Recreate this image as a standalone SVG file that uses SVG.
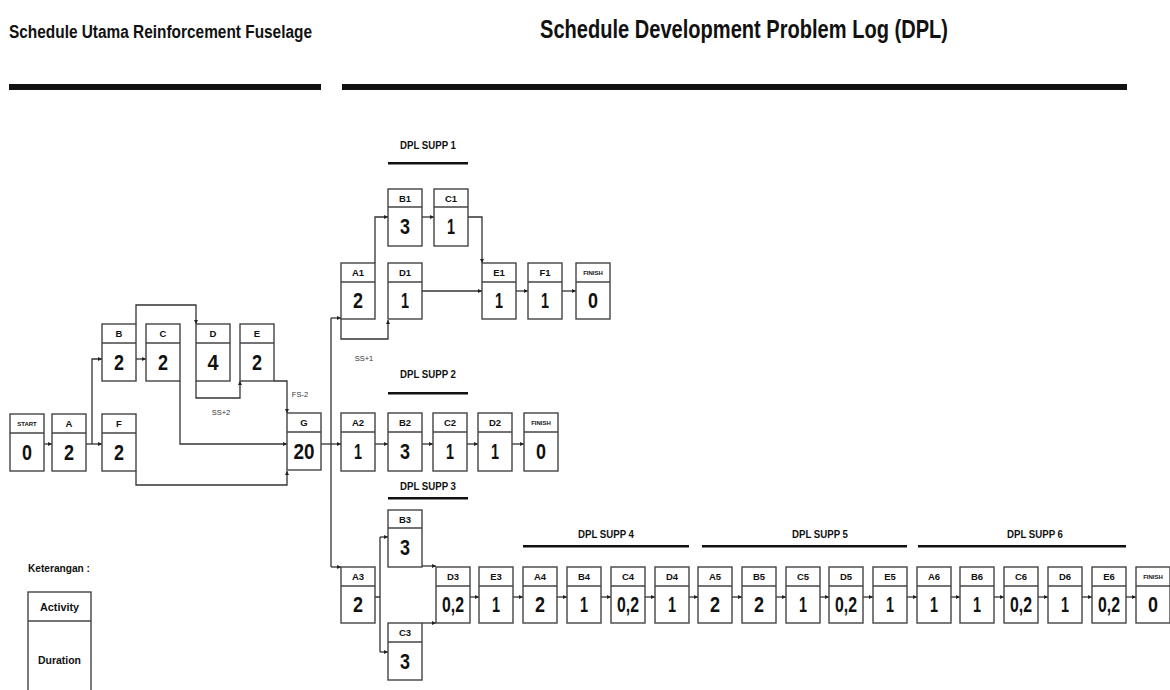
<svg xmlns="http://www.w3.org/2000/svg" width="1170" height="690" viewBox="0 0 1170 690">
<defs>
<marker id="ah" viewBox="0 0 6 6" refX="6" refY="3" markerWidth="4" markerHeight="4" orient="auto" markerUnits="userSpaceOnUse">
<path d="M0,0 L6,3 L0,6 z" fill="#222"/>
</marker>
<style>
.bx rect{fill:#fff;stroke:#444;stroke-width:1.4}
.bx line{stroke:#444;stroke-width:1.4}
.lb{font-family:"Liberation Sans",Arial,sans-serif;font-weight:bold;font-size:9.5px;fill:#111;text-anchor:middle}
.sm{font-size:6px}
.nm{font-family:"Liberation Sans",Arial,sans-serif;font-weight:bold;font-size:22px;fill:#111;text-anchor:middle}
.cn path{fill:none;stroke:#333;stroke-width:1.3}
.cn .a{marker-end:url(#ah)}
.note{font-family:"Liberation Sans",Arial,sans-serif;font-size:7.5px;fill:#333;text-anchor:middle}
.sec{font-family:"Liberation Sans",Arial,sans-serif;font-weight:bold;font-size:11px;fill:#111;text-anchor:middle}
.bar{fill:#111}
.title{font-family:"Liberation Sans",Arial,sans-serif;font-weight:bold;fill:#111}
</style>
</defs>
<rect width="1170" height="690" fill="#fff"/>

<!-- titles -->
<text class="title" x="9" y="38" font-size="17.5" textLength="303" lengthAdjust="spacingAndGlyphs">Schedule Utama Reinforcement Fuselage</text>
<text class="title" x="540" y="38" font-size="26" textLength="408" lengthAdjust="spacingAndGlyphs">Schedule Development Problem Log (DPL)</text>
<rect class="bar" x="9" y="84" width="312" height="6"/>
<rect class="bar" x="342" y="84" width="785" height="6"/>

<!-- section headers -->
<text class="sec" x="428" y="149" textLength="56" lengthAdjust="spacingAndGlyphs">DPL SUPP 1</text>
<rect class="bar" x="388" y="162" width="80" height="2.5"/>
<text class="sec" x="428" y="378" textLength="56" lengthAdjust="spacingAndGlyphs">DPL SUPP 2</text>
<rect class="bar" x="388" y="392" width="80" height="2.5"/>
<text class="sec" x="428" y="490" textLength="56" lengthAdjust="spacingAndGlyphs">DPL SUPP 3</text>
<rect class="bar" x="388" y="497" width="80" height="2.5"/>
<text class="sec" x="606" y="538" textLength="56" lengthAdjust="spacingAndGlyphs">DPL SUPP 4</text>
<rect class="bar" x="523" y="545" width="166" height="2.5"/>
<text class="sec" x="820" y="538" textLength="56" lengthAdjust="spacingAndGlyphs">DPL SUPP 5</text>
<rect class="bar" x="702" y="545" width="205" height="2.5"/>
<text class="sec" x="1035" y="538" textLength="56" lengthAdjust="spacingAndGlyphs">DPL SUPP 6</text>
<rect class="bar" x="918" y="545" width="208" height="2.5"/>

<!-- connectors -->
<g id="connectors" class="cn">
<path class="a" d="M44,444 H52"/>
<path class="a" d="M86,444 H102"/>
<path class="a" d="M92,444 V359 H102"/>
<path class="a" d="M136,359 H146"/>
<path class="a" d="M136,324 V305 H196 V324"/>
<path class="a" d="M196,381 V398 H240 V381"/>
<path class="a" d="M180,381 V444 H287"/>
<path class="a" d="M274,381 H287 V413"/>
<path class="a" d="M136,471 V485 H287 V471"/>
<path d="M321,444 H331"/>
<path d="M331,318 V567"/>
<path class="a" d="M331,318 H341"/>
<path class="a" d="M331,444 H341"/>
<path class="a" d="M331,567 H341"/>
<!-- DPL 1 -->
<path class="a" d="M375,263 V217 H388"/>
<path class="a" d="M422,217 H434"/>
<path class="a" d="M468,217 H482 V263"/>
<path class="a" d="M341,319 V339 H388 V320"/>
<path class="a" d="M422,291 H482"/>
<path class="a" d="M516,291 H528"/>
<path class="a" d="M562,291 H576"/>
<!-- DPL 2 -->
<path class="a" d="M375,444 H388"/>
<path class="a" d="M422,444 H433"/>
<path class="a" d="M467,444 H478"/>
<path class="a" d="M512,444 H524"/>
<!-- DPL 3 -->
<path d="M375,597 H380 M380,537 V652"/>
<path class="a" d="M380,537 H388"/>
<path class="a" d="M380,652 H388"/>
<path class="a" d="M422,566 H436"/>
<path class="a" d="M422,623 H436"/>
<path class="a" d="M470,597 H479"/>
<path class="a" d="M513,597 H523"/>
<path class="a" d="M557,597 H567"/>
<path class="a" d="M601,597 H611"/>
<path class="a" d="M645,597 H655"/>
<path class="a" d="M689,597 H698"/>
<path class="a" d="M732,597 H742"/>
<path class="a" d="M776,597 H786"/>
<path class="a" d="M820,597 H829"/>
<path class="a" d="M863,597 H873"/>
<path class="a" d="M907,597 H917"/>
<path class="a" d="M951,597 H960"/>
<path class="a" d="M994,597 H1004"/>
<path class="a" d="M1038,597 H1048"/>
<path class="a" d="M1082,597 H1092"/>
<path class="a" d="M1126,597 H1136"/>
</g>
<text class="note" x="221" y="415">SS+2</text>
<text class="note" x="300" y="397">FS-2</text>
<text class="note" x="364" y="361">SS+1</text>

<!-- nodes -->
<g id="n-start" class="bx" transform="translate(10,414)"><rect width="34" height="57"/><line x1="0" y1="19" x2="34" y2="19"/><text class="lb sm" x="17" y="12">START</text><text class="nm" x="17" y="46" textLength="10" lengthAdjust="spacingAndGlyphs">0</text></g>
<g id="n-a" class="bx" transform="translate(52,414)"><rect width="34" height="57"/><line x1="0" y1="19" x2="34" y2="19"/><text class="lb" x="17" y="13">A</text><text class="nm" x="17" y="46" textLength="10" lengthAdjust="spacingAndGlyphs">2</text></g>
<g id="n-f" class="bx" transform="translate(102,414)"><rect width="34" height="57"/><line x1="0" y1="19" x2="34" y2="19"/><text class="lb" x="17" y="13">F</text><text class="nm" x="17" y="46" textLength="10" lengthAdjust="spacingAndGlyphs">2</text></g>
<g id="n-b" class="bx" transform="translate(102,324)"><rect width="34" height="57"/><line x1="0" y1="19" x2="34" y2="19"/><text class="lb" x="17" y="13">B</text><text class="nm" x="17" y="46" textLength="10" lengthAdjust="spacingAndGlyphs">2</text></g>
<g id="n-c" class="bx" transform="translate(146,324)"><rect width="34" height="57"/><line x1="0" y1="19" x2="34" y2="19"/><text class="lb" x="17" y="13">C</text><text class="nm" x="17" y="46" textLength="10" lengthAdjust="spacingAndGlyphs">2</text></g>
<g id="n-d" class="bx" transform="translate(196,324)"><rect width="34" height="57"/><line x1="0" y1="19" x2="34" y2="19"/><text class="lb" x="17" y="13">D</text><text class="nm" x="17" y="46" textLength="11" lengthAdjust="spacingAndGlyphs">4</text></g>
<g id="n-e" class="bx" transform="translate(240,324)"><rect width="34" height="57"/><line x1="0" y1="19" x2="34" y2="19"/><text class="lb" x="17" y="13">E</text><text class="nm" x="17" y="46" textLength="10" lengthAdjust="spacingAndGlyphs">2</text></g>
<g id="n-g" class="bx" transform="translate(287,413)"><rect width="34" height="57"/><line x1="0" y1="19" x2="34" y2="19"/><text class="lb" x="17" y="13">G</text><text class="nm" x="17" y="46" textLength="21" lengthAdjust="spacingAndGlyphs">20</text></g>

<g id="n-a1" class="bx" transform="translate(341,263)"><rect width="34" height="56"/><line x1="0" y1="19" x2="34" y2="19"/><text class="lb" x="17" y="13">A1</text><text class="nm" x="17" y="45" textLength="10" lengthAdjust="spacingAndGlyphs">2</text></g>
<g id="n-b1" class="bx" transform="translate(388,189)"><rect width="34" height="57"/><line x1="0" y1="18" x2="34" y2="18"/><text class="lb" x="17" y="13">B1</text><text class="nm" x="17" y="45" textLength="10" lengthAdjust="spacingAndGlyphs">3</text></g>
<g id="n-c1" class="bx" transform="translate(434,189)"><rect width="34" height="57"/><line x1="0" y1="18" x2="34" y2="18"/><text class="lb" x="17" y="13">C1</text><text class="nm" x="17" y="45" textLength="8" lengthAdjust="spacingAndGlyphs">1</text></g>
<g id="n-d1" class="bx" transform="translate(388,263)"><rect width="34" height="56"/><line x1="0" y1="19" x2="34" y2="19"/><text class="lb" x="17" y="13">D1</text><text class="nm" x="17" y="45" textLength="8" lengthAdjust="spacingAndGlyphs">1</text></g>
<g id="n-e1" class="bx" transform="translate(482,263)"><rect width="34" height="56"/><line x1="0" y1="19" x2="34" y2="19"/><text class="lb" x="17" y="13">E1</text><text class="nm" x="17" y="45" textLength="8" lengthAdjust="spacingAndGlyphs">1</text></g>
<g id="n-f1" class="bx" transform="translate(528,263)"><rect width="34" height="56"/><line x1="0" y1="19" x2="34" y2="19"/><text class="lb" x="17" y="13">F1</text><text class="nm" x="17" y="45" textLength="8" lengthAdjust="spacingAndGlyphs">1</text></g>
<g id="n-finish1" class="bx" transform="translate(576,263)"><rect width="34" height="56"/><line x1="0" y1="19" x2="34" y2="19"/><text class="lb sm" x="17" y="12">FINISH</text><text class="nm" x="17" y="45" textLength="10" lengthAdjust="spacingAndGlyphs">0</text></g>

<g id="n-a2" class="bx" transform="translate(341,413)"><rect width="34" height="58"/><line x1="0" y1="19" x2="34" y2="19"/><text class="lb" x="17" y="13">A2</text><text class="nm" x="17" y="46" textLength="8" lengthAdjust="spacingAndGlyphs">1</text></g>
<g id="n-b2" class="bx" transform="translate(388,413)"><rect width="34" height="58"/><line x1="0" y1="19" x2="34" y2="19"/><text class="lb" x="17" y="13">B2</text><text class="nm" x="17" y="46" textLength="10" lengthAdjust="spacingAndGlyphs">3</text></g>
<g id="n-c2" class="bx" transform="translate(433,413)"><rect width="34" height="58"/><line x1="0" y1="19" x2="34" y2="19"/><text class="lb" x="17" y="13">C2</text><text class="nm" x="17" y="46" textLength="8" lengthAdjust="spacingAndGlyphs">1</text></g>
<g id="n-d2" class="bx" transform="translate(478,413)"><rect width="34" height="58"/><line x1="0" y1="19" x2="34" y2="19"/><text class="lb" x="17" y="13">D2</text><text class="nm" x="17" y="46" textLength="8" lengthAdjust="spacingAndGlyphs">1</text></g>
<g id="n-finish2" class="bx" transform="translate(524,413)"><rect width="34" height="58"/><line x1="0" y1="19" x2="34" y2="19"/><text class="lb sm" x="17" y="12">FINISH</text><text class="nm" x="17" y="46" textLength="10" lengthAdjust="spacingAndGlyphs">0</text></g>

<g id="n-a3" class="bx" transform="translate(341,567)"><rect width="34" height="56"/><line x1="0" y1="19" x2="34" y2="19"/><text class="lb" x="17" y="13">A3</text><text class="nm" x="17" y="45" textLength="10" lengthAdjust="spacingAndGlyphs">2</text></g>
<g id="n-b3" class="bx" transform="translate(388,510)"><rect width="34" height="57"/><line x1="0" y1="18" x2="34" y2="18"/><text class="lb" x="17" y="13">B3</text><text class="nm" x="17" y="45" textLength="10" lengthAdjust="spacingAndGlyphs">3</text></g>
<g id="n-c3" class="bx" transform="translate(388,623)"><rect width="34" height="57"/><line x1="0" y1="19" x2="34" y2="19"/><text class="lb" x="17" y="13">C3</text><text class="nm" x="17" y="46" textLength="10" lengthAdjust="spacingAndGlyphs">3</text></g>
<g id="n-d3" class="bx" transform="translate(436,567)"><rect width="34" height="56"/><line x1="0" y1="19" x2="34" y2="19"/><text class="lb" x="17" y="13">D3</text><text class="nm" x="17" y="45" textLength="22" lengthAdjust="spacingAndGlyphs">0,2</text></g>
<g id="n-e3" class="bx" transform="translate(479,567)"><rect width="34" height="56"/><line x1="0" y1="19" x2="34" y2="19"/><text class="lb" x="17" y="13">E3</text><text class="nm" x="17" y="45" textLength="8" lengthAdjust="spacingAndGlyphs">1</text></g>
<g id="n-a4" class="bx" transform="translate(523,567)"><rect width="34" height="56"/><line x1="0" y1="19" x2="34" y2="19"/><text class="lb" x="17" y="13">A4</text><text class="nm" x="17" y="45" textLength="10" lengthAdjust="spacingAndGlyphs">2</text></g>
<g id="n-b4" class="bx" transform="translate(567,567)"><rect width="34" height="56"/><line x1="0" y1="19" x2="34" y2="19"/><text class="lb" x="17" y="13">B4</text><text class="nm" x="17" y="45" textLength="8" lengthAdjust="spacingAndGlyphs">1</text></g>
<g id="n-c4" class="bx" transform="translate(611,567)"><rect width="34" height="56"/><line x1="0" y1="19" x2="34" y2="19"/><text class="lb" x="17" y="13">C4</text><text class="nm" x="17" y="45" textLength="22" lengthAdjust="spacingAndGlyphs">0,2</text></g>
<g id="n-d4" class="bx" transform="translate(655,567)"><rect width="34" height="56"/><line x1="0" y1="19" x2="34" y2="19"/><text class="lb" x="17" y="13">D4</text><text class="nm" x="17" y="45" textLength="8" lengthAdjust="spacingAndGlyphs">1</text></g>
<g id="n-a5" class="bx" transform="translate(698,567)"><rect width="34" height="56"/><line x1="0" y1="19" x2="34" y2="19"/><text class="lb" x="17" y="13">A5</text><text class="nm" x="17" y="45" textLength="10" lengthAdjust="spacingAndGlyphs">2</text></g>
<g id="n-b5" class="bx" transform="translate(742,567)"><rect width="34" height="56"/><line x1="0" y1="19" x2="34" y2="19"/><text class="lb" x="17" y="13">B5</text><text class="nm" x="17" y="45" textLength="10" lengthAdjust="spacingAndGlyphs">2</text></g>
<g id="n-c5" class="bx" transform="translate(786,567)"><rect width="34" height="56"/><line x1="0" y1="19" x2="34" y2="19"/><text class="lb" x="17" y="13">C5</text><text class="nm" x="17" y="45" textLength="8" lengthAdjust="spacingAndGlyphs">1</text></g>
<g id="n-d5" class="bx" transform="translate(829,567)"><rect width="34" height="56"/><line x1="0" y1="19" x2="34" y2="19"/><text class="lb" x="17" y="13">D5</text><text class="nm" x="17" y="45" textLength="22" lengthAdjust="spacingAndGlyphs">0,2</text></g>
<g id="n-e5" class="bx" transform="translate(873,567)"><rect width="34" height="56"/><line x1="0" y1="19" x2="34" y2="19"/><text class="lb" x="17" y="13">E5</text><text class="nm" x="17" y="45" textLength="8" lengthAdjust="spacingAndGlyphs">1</text></g>
<g id="n-a6" class="bx" transform="translate(917,567)"><rect width="34" height="56"/><line x1="0" y1="19" x2="34" y2="19"/><text class="lb" x="17" y="13">A6</text><text class="nm" x="17" y="45" textLength="8" lengthAdjust="spacingAndGlyphs">1</text></g>
<g id="n-b6" class="bx" transform="translate(960,567)"><rect width="34" height="56"/><line x1="0" y1="19" x2="34" y2="19"/><text class="lb" x="17" y="13">B6</text><text class="nm" x="17" y="45" textLength="8" lengthAdjust="spacingAndGlyphs">1</text></g>
<g id="n-c6" class="bx" transform="translate(1004,567)"><rect width="34" height="56"/><line x1="0" y1="19" x2="34" y2="19"/><text class="lb" x="17" y="13">C6</text><text class="nm" x="17" y="45" textLength="22" lengthAdjust="spacingAndGlyphs">0,2</text></g>
<g id="n-d6" class="bx" transform="translate(1048,567)"><rect width="34" height="56"/><line x1="0" y1="19" x2="34" y2="19"/><text class="lb" x="17" y="13">D6</text><text class="nm" x="17" y="45" textLength="8" lengthAdjust="spacingAndGlyphs">1</text></g>
<g id="n-e6" class="bx" transform="translate(1092,567)"><rect width="34" height="56"/><line x1="0" y1="19" x2="34" y2="19"/><text class="lb" x="17" y="13">E6</text><text class="nm" x="17" y="45" textLength="22" lengthAdjust="spacingAndGlyphs">0,2</text></g>
<g id="n-finish3" class="bx" transform="translate(1136,567)"><rect width="34" height="56"/><line x1="0" y1="19" x2="34" y2="19"/><text class="lb sm" x="17" y="12">FINISH</text><text class="nm" x="17" y="45" textLength="10" lengthAdjust="spacingAndGlyphs">0</text></g>

<!-- legend -->
<g id="legend">
<text class="title" x="59" y="572" font-size="11.5" text-anchor="middle" textLength="62" lengthAdjust="spacingAndGlyphs">Keterangan :</text>
<g class="bx"><rect x="28" y="592" width="63" height="110"/><line x1="28" y1="621" x2="91" y2="621"/></g>
<text class="title" x="59.5" y="611" font-size="11" text-anchor="middle" textLength="39" lengthAdjust="spacingAndGlyphs">Activity</text>
<text class="title" x="59.5" y="664" font-size="11" text-anchor="middle" textLength="43" lengthAdjust="spacingAndGlyphs">Duration</text>
</g>
</svg>
